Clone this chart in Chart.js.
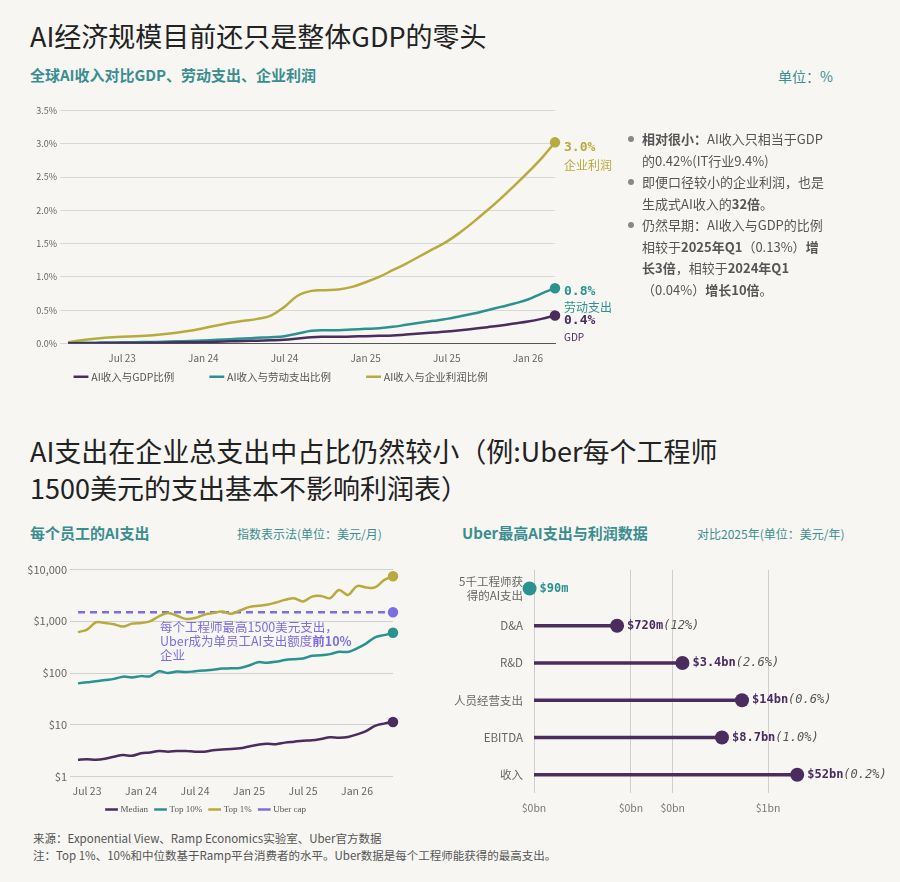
<!DOCTYPE html>
<html><head><meta charset="utf-8">
<script src="https://cdn.jsdelivr.net/npm/chart.js@4.4.1/dist/chart.umd.min.js"></script>
<style>
body{margin:0;background:#f7f6f3;font-family:"Noto Sans CJK SC","Noto Sans",sans-serif;}
#wrap{position:relative;width:900px;height:882px;overflow:hidden;}
.t{position:absolute;white-space:nowrap;}
.box{position:absolute;}
.b{position:relative;padding-left:16px;}
.b:before{content:"";position:absolute;left:2px;top:8px;width:6px;height:6px;border-radius:3px;background:#888;}
</style></head><body><div id="wrap">
<div class="t" style="left:30px;top:16px;font-size:27px;color:#222;">AI经济规模目前还只是整体GDP的零头</div>
<div class="t" style="left:30px;top:64px;font-size:15px;font-weight:bold;color:#3a8e90;">全球AI收入对比GDP、劳动支出、企业利润</div>
<div class="t" style="left:778px;top:66px;font-size:14px;color:#3a8e90;">单位：%</div>
<div class="box" style="left:30px;top:102px;width:600px;height:290px;"><canvas id="c1"></canvas></div>
<div class="t" style="left:626px;top:128px;font-size:13px;color:#555;line-height:21.5px;white-space:normal;width:260px;">
<div class="b"><b>相对很小：</b>AI收入只相当于GDP<br>的0.42%(IT行业9.4%)</div>
<div class="b">即便口径较小的企业利润，也是<br>生成式AI收入的<b>32倍</b>。</div>
<div class="b">仍然早期：AI收入与GDP的比例<br>相较于<b>2025年Q1</b>（0.13%）<b>增<br>长3倍</b>，相较于<b>2024年Q1</b><br>（0.04%）<b>增长10倍</b>。</div>
</div>
<div class="t" style="left:30px;top:432px;font-size:27px;color:#222;line-height:37px;">AI支出在企业总支出中占比仍然较小（例:Uber每个工程师<br>1500美元的支出基本不影响利润表）</div>
<div class="t" style="left:30px;top:522px;font-size:15px;font-weight:bold;color:#3a8e90;">每个员工的AI支出</div>
<div class="t" style="left:237px;top:525px;font-size:12px;color:#3a8e90;">指数表示法(单位：美元/月)</div>
<div class="t" style="left:462px;top:522px;font-size:15px;font-weight:bold;color:#3a8e90;">Uber最高AI支出与利润数据</div>
<div class="t" style="left:697px;top:525px;font-size:12px;color:#3a8e90;">对比2025年(单位：美元/年)</div>
<div class="box" style="left:20px;top:560px;width:381px;height:264px;"><canvas id="c2"></canvas></div>
<div class="t" style="left:160px;top:620px;font-size:12.5px;color:#7b6fe0;line-height:14px;">每个工程师最高1500美元支出，<br>Uber成为单员工AI支出额度<b>前10%</b><br>企业</div>
<div class="box" style="left:440px;top:560px;width:460px;height:262px;"><canvas id="c3"></canvas></div>
<div class="t" style="left:33px;top:830px;font-size:11.5px;color:#555;">来源：Exponential View、Ramp Economics实验室、Uber官方数据</div>
<div class="t" style="left:33px;top:847px;font-size:11.5px;color:#555;">注：Top 1%、10%和中位数基于Ramp平台消费者的水平。Uber数据是每个工程师能获得的最高支出。</div>
</div>
<script>
const PURPLE='#4a2c5e',TEAL='#2a9390',GOLD='#b8aa3c',LAV='#7b6fe0';
// Chart 1 data
const months1=['Mar 23','Apr 23','May 23','Jun 23','Jul 23','Aug 23','Sep 23','Oct 23','Nov 23','Dec 23','Jan 24','Feb 24','Mar 24','Apr 24','May 24','Jun 24','Jul 24','Aug 24','Sep 24','Oct 24','Nov 24','Dec 24','Jan 25','Feb 25','Mar 25','Apr 25','May 25','Jun 25','Jul 25','Aug 25','Sep 25','Oct 25','Nov 25','Dec 25','Jan 26','Feb 26','Mar 26'];
const gdpShare=[.002,.004,.005,.007,.008,.009,.01,.013,.016,.019,.022,.027,.032,.037,.042,.047,.055,.075,.095,.1,.1,.105,.11,.115,.12,.135,.15,.165,.18,.2,.22,.245,.27,.3,.33,.37,.42];
const laborShare=[.005,.01,.012,.015,.018,.02,.022,.027,.032,.037,.045,.055,.065,.075,.085,.095,.11,.15,.19,.2,.2,.21,.22,.23,.25,.28,.31,.34,.37,.41,.45,.5,.55,.6,.66,.75,.83];
const profitShare=[.02,.05,.07,.09,.10,.11,.12,.14,.16,.19,.23,.27,.31,.34,.37,.42,.55,.72,.79,.80,.81,.85,.92,1.0,1.1,1.2,1.31,1.42,1.53,1.67,1.83,2.0,2.18,2.37,2.57,2.78,3.02];
const names1=['AI收入与GDP比例','AI收入与劳动支出比例','AI收入与企业利润比例'];
const endNames1=['GDP','劳动支出','企业利润'];
const endVals1=['0.4%','0.8%','3.0%'];
// Chart 2 data
const months2=['Jun 23','Jul 23','Aug 23','Sep 23','Oct 23','Nov 23','Dec 23','Jan 24','Feb 24','Mar 24','Apr 24','May 24','Jun 24','Jul 24','Aug 24','Sep 24','Oct 24','Nov 24','Dec 24','Jan 25','Feb 25','Mar 25','Apr 25','May 25','Jun 25','Jul 25','Aug 25','Sep 25','Oct 25','Nov 25','Dec 25','Jan 26','Feb 26','Mar 26','Apr 26','May 26'];
const median=[2.1,2.15,2.1,2.2,2.4,2.6,2.5,2.8,2.9,3.1,3.0,3.1,3.1,3.0,3.0,3.2,3.3,3.4,3.5,3.8,4.1,4.3,4.2,4.5,4.7,4.9,5.0,5.3,5.7,5.6,5.8,6.5,7.5,9.5,10.5,11.3];
const top10=[63,66,69,73,77,85,82,87,86,108,100,107,104,108,112,116,122,123,125,140,162,158,165,178,185,190,215,220,232,258,255,300,370,490,540,600];
const top1=[617,693,957,929,877,791,902,929,1000,1247,1443,1283,1109,1158,1340,1443,1552,1400,1622,1879,1992,2081,2307,2594,2792,2411,3006,3093,2792,4027,3236,4808,4528,4528,6250,7460];
const uberCap=1500;
const names2=['Median','Top 10%','Top 1%','Uber cap'];
const ticks2=[1,10,100,1000,10000];
// Chart 3 data
const items3=[['5千工程师获','得的AI支出'],'D&A','R&D','人员经营支出','EBITDA','收入'];
const values3=[0.09,0.72,3.4,14,8.7,52];
const valLabels3=['$90m','$720m','$3.4bn','$14bn','$8.7bn','$52bn'];
const pctLabels3=['','(12%)','(2.6%)','(0.6%)','(1.0%)','(0.2%)'];
const ticks3=[0.1,1,2.7,26];
const tickLabels3=['$0bn','$0bn','$0bn','$1bn'];

Chart.defaults.font.family='"Noto Sans CJK SC","Noto Sans",sans-serif';
Chart.defaults.animation=false;
const endDot=(n)=>(c)=>c.dataIndex===n-1?4:0;

new Chart(document.getElementById('c1'),{type:'line',
data:{labels:months1,datasets:[
{label:names1[0],data:gdpShare,borderColor:PURPLE,backgroundColor:PURPLE},
{label:names1[1],data:laborShare,borderColor:TEAL,backgroundColor:TEAL},
{label:names1[2],data:profitShare,borderColor:GOLD,backgroundColor:GOLD}].map(d=>Object.assign(d,{borderWidth:2.5,tension:0.4,pointRadius:endDot(months1.length),pointHoverRadius:0}))},
options:{responsive:true,maintainAspectRatio:false,layout:{padding:{right:75,left:0,top:2}},
plugins:{legend:{position:'bottom',align:'start',labels:{usePointStyle:true,pointStyle:'line',boxWidth:10,font:{size:10.5},color:'#555',padding:6,
 generateLabels:ch=>Chart.defaults.plugins.legend.labels.generateLabels(ch).map((l,i)=>Object.assign(l,{text:l.text+'\u3000\u3000\u3000'}))}},tooltip:{enabled:false},
},
scales:{x:{grid:{display:false},border:{color:'#555'},ticks:{autoSkip:false,maxRotation:0,padding:1,font:{size:10},color:'#666',callback:function(v){const l=this.getLabelForValue(v);return /^(Jan|Jul)/.test(l)?l:'';}}},
y:{min:0,max:3.5,afterFit:s=>{s.width=38},border:{display:false},grid:{color:'#d8d8d8'},ticks:{stepSize:0.5,font:{size:9},color:'#666',callback:v=>v.toFixed(1)+'%'}}}},
plugins:[{id:'legpad',afterLayout(ch){if(ch.legend){ch.legend.left+=40;}}},{id:'endlab',afterDatasetsDraw(ch){const c=ch.ctx;ch.data.datasets.forEach((d,i)=>{const p=ch.getDatasetMeta(i).data[d.data.length-1];c.save();c.fillStyle=d.borderColor;c.textBaseline='middle';c.font='bold 13px "DejaVu Sans Mono"';c.fillText(endVals1[i],p.x+9,p.y+(i==2?5:i==0?5:3));c.font=(i==0?'10px':'12px')+' "Noto Sans CJK SC"';c.fillText(endNames1[i],p.x+9,p.y+(i==2?23:i==0?22:19));c.restore();});}}]});

new Chart(document.getElementById('c2'),{type:'line',
data:{labels:months2,datasets:[
{label:names2[0],data:median,borderColor:PURPLE,backgroundColor:PURPLE},
{label:names2[1],data:top10,borderColor:TEAL,backgroundColor:TEAL},
{label:names2[2],data:top1,borderColor:GOLD,backgroundColor:GOLD},
{label:names2[3],data:months2.map(()=>uberCap),borderColor:LAV,backgroundColor:LAV,borderDash:[7,5],tension:0}].map(d=>Object.assign({borderWidth:2.5,tension:0.35,pointRadius:endDot(months2.length),pointHoverRadius:0},d))},
options:{responsive:true,maintainAspectRatio:false,layout:{padding:{right:8,top:4}},
plugins:{legend:{position:'bottom',labels:{usePointStyle:true,pointStyle:'line',boxWidth:12,font:{size:9,family:'"Liberation Serif"'},color:'#555',padding:8}},tooltip:{enabled:false}},
scales:{x:{grid:{display:false},border:{display:false},ticks:{autoSkip:false,maxRotation:0,padding:0,font:{size:10.5},color:'#666',callback:function(v){const l=this.getLabelForValue(v);return /^(Jan|Jul)/.test(l)?l:'';}}},
y:{type:'logarithmic',min:1,max:10000,afterFit:s=>{s.width=58},afterBuildTicks:s=>{s.ticks=ticks2.map(v=>({value:v}))},border:{display:false},grid:{color:'#d0d0d0'},ticks:{font:{size:11},color:'#666',callback:v=>'$'+v.toLocaleString('en-US')}}}}});

new Chart(document.getElementById('c3'),{type:'bar',
data:{labels:items3,datasets:[
{type:'bar',data:values3.map((v,i)=>i===0?null:[0.1,v]),backgroundColor:PURPLE,barThickness:3,order:2},
{type:'line',data:values3.map((v,i)=>({x:v,y:i})),showLine:false,clip:false,pointRadius:7,pointBackgroundColor:values3.map((v,i)=>i===0?TEAL:PURPLE),pointBorderWidth:0,order:1}]},
options:{indexAxis:'y',responsive:true,maintainAspectRatio:false,layout:{padding:{right:29,top:6}},
plugins:{legend:{display:false},tooltip:{enabled:false}},
scales:{x:{type:'logarithmic',min:0.1,max:300,afterBuildTicks:s=>{s.ticks=ticks3.map(v=>({value:v}))},border:{display:false},grid:{color:'#cfcfcf',drawTicks:false},ticks:{padding:8,font:{size:10.5},color:'#777',callback:(v)=>tickLabels3[ticks3.indexOf(v)]}},
y:{afterFit:s=>{s.width=94},grid:{display:false},border:{display:false},ticks:{font:{size:11.5},color:'#666'}}}},
plugins:[{id:'vlab',afterDatasetsDraw(ch){const c=ch.ctx;const m=ch.getDatasetMeta(1);m.data.forEach((p,i)=>{c.save();c.textBaseline='middle';c.fillStyle=i===0?TEAL:PURPLE;c.font='bold 12px "DejaVu Sans Mono"';const x=p.x+10;c.fillText(valLabels3[i],x,p.y);const w=c.measureText(valLabels3[i]).width;c.font='italic 12px "DejaVu Sans Mono"';c.fillStyle='#555';c.fillText(pctLabels3[i],x+w,p.y);c.restore();});}}]});
</script></body></html>
